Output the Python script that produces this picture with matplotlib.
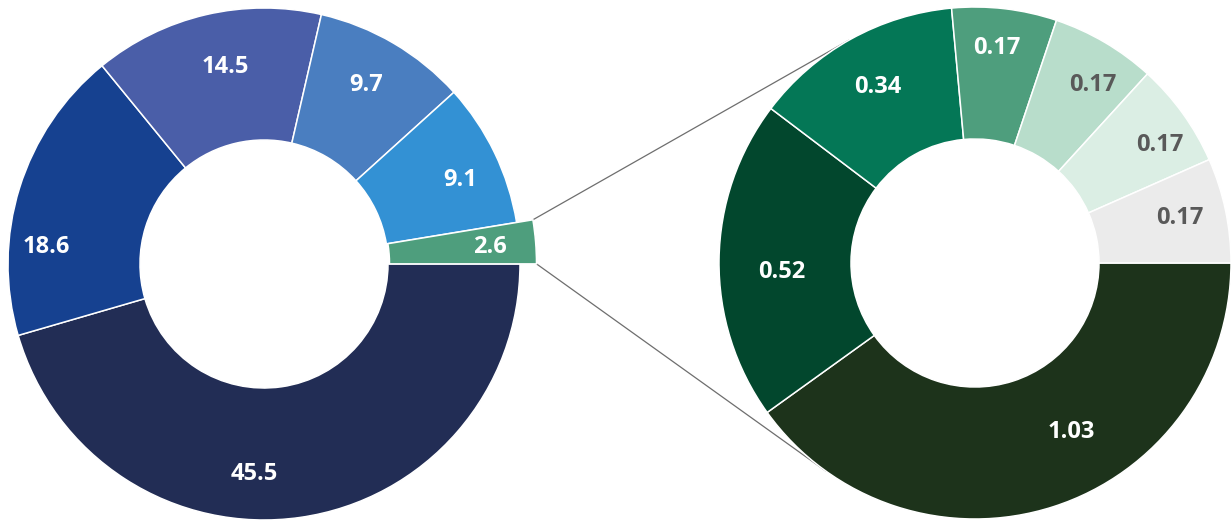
import numpy as np
import matplotlib.pyplot as plt

W, H = 1231, 522

# main breakdown (left ring), last slice is broken out on the right
main_values = [45.5, 18.6, 14.5, 9.7, 9.1, 2.6]
main_labels = ["45.5", "18.6", "14.5", "9.7", "9.1", "2.6"]
main_colors = ["#222D55", "#164190", "#4A5EA8", "#4A7EC0", "#3391D4", "#4E9E7D"]
main_text = ["white"] * 6

sub_values = [1.03, 0.52, 0.34, 0.17, 0.17, 0.17, 0.17]
sub_labels = ["1.03", "0.52", "0.34", "0.17", "0.17", "0.17", "0.17"]
sub_colors = ["#1D331B", "#02472D", "#047756", "#4E9E7D", "#B8DDCB", "#DBEEE4", "#EBEBEB"]
sub_text = ["white", "white", "white", "white", "#595959", "#595959", "#595959"]

# label anchors in pixel coordinates (x, y from top)
main_label_pos = [(254, 474), (46, 247), (225, 67), (366, 85), (460, 180), (490, 247)]
sub_label_pos = [(1071, 432), (782, 272), (878, 87), (997, 48), (1093, 85), (1160, 145), (1180, 218)]

left_c, right_c = (264, H - 264), (975, H - 263)
r_out, r_in = 256, 124
r_big = 271  # broken-out slice sticks out a bit

fig = plt.figure(figsize=(W / 100, H / 100), dpi=100)
ax = fig.add_axes([0, 0, 1, 1])

edge = dict(edgecolor="white", linewidth=1.1)
wl, _ = ax.pie(main_values, colors=main_colors, startangle=0, counterclock=False,
               center=left_c, radius=r_out,
               wedgeprops=dict(width=r_out - r_in, **edge))
ws, _ = ax.pie(sub_values, colors=sub_colors, startangle=0, counterclock=False,
               center=right_c, radius=r_out,
               wedgeprops=dict(width=r_out - r_in, **edge))

# enlarge and nudge out the small slice
w = wl[-1]
w.set_radius(r_big)
w.set_width(r_big - r_in)
mid = np.deg2rad((w.theta1 + w.theta2) / 2)
shift = 1.5
w.set_center((left_c[0] + shift * np.cos(mid), left_c[1] + shift * np.sin(mid)))

# connector lines: from the slice's outer corners, tangent to the right ring
cx, cy = w.center
for ang, side in [(w.theta2, 1), (w.theta1, -1)]:
    a = np.deg2rad(ang)
    px, py = cx + r_big * np.cos(a), cy + r_big * np.sin(a)
    dx, dy = px - right_c[0], py - right_c[1]
    d = np.hypot(dx, dy)
    phi = np.arctan2(dy, dx)
    t = phi - side * np.arccos(r_out / d)
    tx, ty = right_c[0] + r_out * np.cos(t), right_c[1] + r_out * np.sin(t)
    ax.plot([px, tx], [py, ty], color="#6E6E6E", linewidth=0.9, zorder=0)

for lab, (x, y), c in zip(main_labels, main_label_pos, main_text):
    ax.text(x, H - y, lab, ha="center", va="center", color=c,
            fontsize=17, fontweight="bold", family="Open Sans")
for lab, (x, y), c in zip(sub_labels, sub_label_pos, sub_text):
    ax.text(x, H - y, lab, ha="center", va="center", color=c,
            fontsize=17, fontweight="bold", family="Open Sans")

ax.set_xlim(0, W)
ax.set_ylim(0, H)
ax.set_aspect("auto")
ax.axis("off")

fig.savefig("out.png", dpi=100, facecolor="white")
